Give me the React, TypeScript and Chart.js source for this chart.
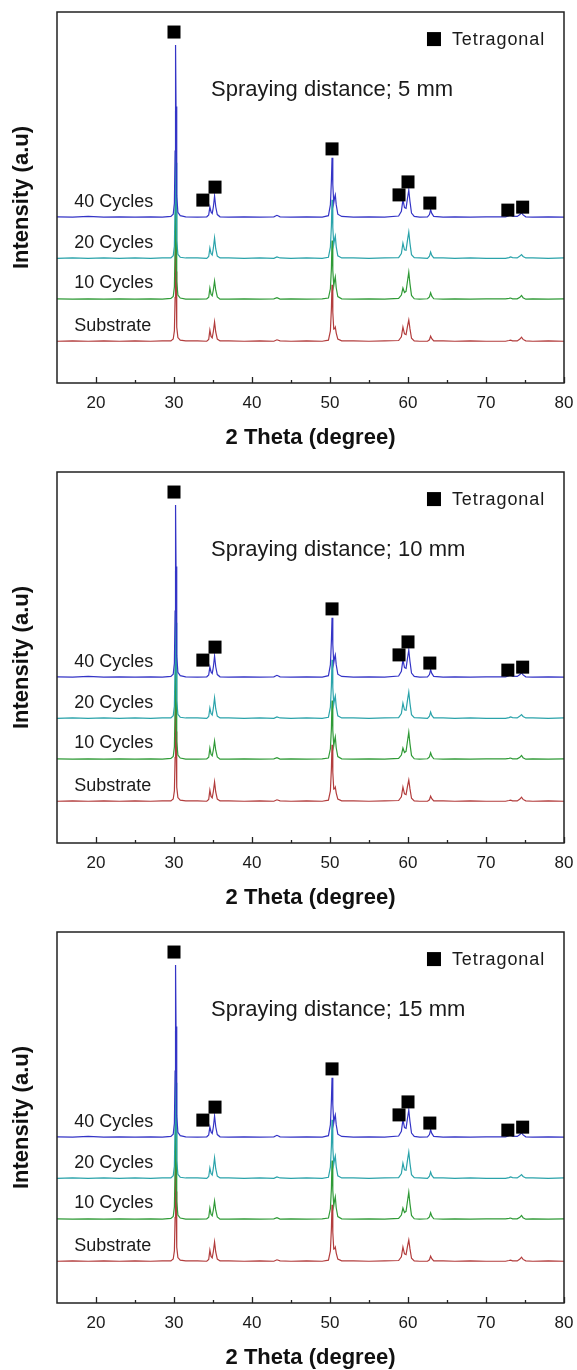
import React, { useEffect, useRef } from 'react';
import { Chart, registerables } from 'chart.js';

Chart.register(...registerables);

const FONT = '"Liberation Sans", Arial, Helvetica, sans-serif';

// ---- data ----
const distances = ['5 mm', '10 mm', '15 mm'];
const seriesNames = ['40 Cycles', '20 Cycles', '10 Cycles', 'Substrate'];
const seriesColors = ['#3434c6', '#2aa3aa', '#2f9a36', '#b23c3c'];
const seriesOffsets = [44.5, 33.4, 22.4, 11.05];

const twoTheta = [
  15, 17, 19, 21, 23, 25, 27, 28.5,
  29.6, 29.9, 30.05, 30.14, 30.2, 30.26, 30.35, 30.5, 30.8, 31.5,
  33, 34.2, 34.45, 34.6, 34.75, 34.9, 35.05, 35.2, 35.35, 35.55, 35.9,
  37, 39, 41, 42.8, 43.2, 43.6, 45, 47, 49,
  49.8, 50.05, 50.18, 50.26, 50.36, 50.48, 50.6, 50.68, 50.8, 51.0, 51.5,
  53, 55, 57,
  58.8, 59.15, 59.35, 59.55, 59.75, 59.95, 60.1, 60.25, 60.45, 60.8, 61.5,
  62.5, 62.75, 62.9, 63.05, 63.3,
  64.5, 66, 68, 70,
  72.5, 72.95, 73.15, 73.4, 74.0, 74.35, 74.55, 74.75, 75.1,
  76, 78, 80,
];

const int40 = [
  0.3, 0.2, 0.4, 0.2, 0.3, 0.2, 0.3, 0.2,
  0.4, 1.0, 4, 18, 46.6, 30, 6, 1.5, 0.6, 0.3,
  0.2, 0.3, 0.8, 3.0, 1.6, 1.2, 3.0, 5.9, 3.0, 0.9, 0.3,
  0.2, 0.3, 0.2, 0.3, 0.7, 0.3, 0.2, 0.3, 0.2,
  0.6, 3.5, 10, 16.2, 9, 4, 5.6, 6.2, 3.5, 1.0, 0.4,
  0.2, 0.3, 0.2,
  0.5, 1.8, 4.9, 2.8, 2.6, 5.5, 7.5, 4.5, 1.3, 0.4, 0.2,
  0.3, 0.9, 2.2, 1.2, 0.4,
  0.2, 0.3, 0.2, 0.3,
  0.3, 0.6, 0.8, 0.5, 0.4, 0.9, 1.4, 0.8, 0.3,
  0.2, 0.3, 0.2,
];

const int20 = [
  0.2, 0.3, 0.2, 0.3, 0.2, 0.3, 0.2, 0.3,
  0.3, 0.9, 3.5, 15, 40, 26, 5, 1.3, 0.5, 0.3,
  0.3, 0.2, 0.7, 3.0, 1.5, 1.1, 3.0, 5.7, 2.8, 0.8, 0.3,
  0.3, 0.2, 0.3, 0.2, 0.6, 0.3, 0.2, 0.3, 0.2,
  0.5, 3.2, 9, 16, 8.5, 4, 5.5, 6.2, 3.3, 0.9, 0.3,
  0.3, 0.2, 0.3,
  0.4, 1.5, 4.3, 2.5, 2.4, 5.3, 7.3, 4.3, 1.2, 0.4, 0.3,
  0.2, 0.8, 1.9, 1.0, 0.3,
  0.3, 0.2, 0.3, 0.2,
  0.2, 0.4, 0.6, 0.4, 0.3, 0.8, 1.2, 0.7, 0.3,
  0.3, 0.2, 0.3,
];

const int10 = [
  0.3, 0.2, 0.3, 0.2, 0.3, 0.2, 0.3, 0.2,
  0.4, 0.9, 3.5, 14, 36, 24, 5, 1.3, 0.5, 0.2,
  0.2, 0.3, 0.7, 3.2, 1.5, 1.1, 2.8, 5.1, 2.6, 0.8, 0.2,
  0.2, 0.3, 0.2, 0.3, 0.6, 0.2, 0.3, 0.2, 0.3,
  0.5, 3.0, 8.5, 16, 8, 3.8, 5.4, 6.2, 3.2, 0.9, 0.3,
  0.2, 0.3, 0.2,
  0.4, 1.3, 3.2, 2.0, 2.3, 5.3, 7.5, 4.4, 1.2, 0.3, 0.2,
  0.3, 0.8, 1.9, 1.0, 0.3,
  0.2, 0.3, 0.2, 0.3,
  0.3, 0.4, 0.5, 0.3, 0.3, 0.7, 1.2, 0.6, 0.2,
  0.3, 0.2, 0.3,
];

const intSub = [
  0.2, 0.3, 0.2, 0.3, 0.2, 0.3, 0.2, 0.3,
  0.3, 0.8, 3.0, 12, 28, 19, 4, 1.2, 0.5, 0.3,
  0.3, 0.2, 0.7, 3.2, 1.5, 1.1, 2.9, 5.4, 2.7, 0.8, 0.3,
  0.3, 0.2, 0.3, 0.2, 0.6, 0.3, 0.2, 0.3, 0.2,
  0.5, 3.0, 9, 15.4, 8, 3.5, 3.6, 4.0, 2.4, 0.8, 0.3,
  0.3, 0.2, 0.3,
  0.4, 1.4, 4.0, 2.2, 2.0, 4.4, 5.9, 3.6, 1.0, 0.3, 0.2,
  0.2, 0.6, 1.6, 0.9, 0.3,
  0.3, 0.2, 0.3, 0.2,
  0.2, 0.4, 0.5, 0.3, 0.3, 0.8, 1.3, 0.7, 0.3,
  0.2, 0.3, 0.2,
];

const seriesIntensities = [int40, int20, int10, intSub];

const markerX = [30.0, 33.7, 35.26, 50.26, 58.85, 60.0, 62.8, 72.8, 74.7];
const markerY = [94.6, 49.3, 52.8, 63.1, 50.7, 54.2, 48.5, 46.6, 47.4];

const xTicks = [20, 30, 40, 50, 60, 70, 80];
const xMinorTicks = [25, 35, 45, 55, 65, 75];

const cycleLabelX = 17.2;
const cycleLabelY = [48.8, 37.7, 27.0, 15.4];
const titleTextPos = [34.74, 79.0];
const legendPos = [63.33, 92.7];

function Panel({ distance }: { distance: string }) {
  const ref = useRef<HTMLCanvasElement | null>(null);

  useEffect(() => {
    if (!ref.current) return;

    const overlay = {
      id: 'overlay',
      afterDatasetsDraw(chart: any) {
        const { ctx, chartArea: a, scales } = chart;
        const xs = scales.x;
        const ys = scales.y;
        ctx.save();
        // frame
        ctx.strokeStyle = '#222';
        ctx.lineWidth = 1.5;
        ctx.strokeRect(a.left, a.top, a.right - a.left, a.bottom - a.top);
        // inward ticks
        ctx.lineWidth = 1.3;
        ctx.beginPath();
        xTicks.forEach((v) => {
          const px = Math.round(xs.getPixelForValue(v)) + 0.5;
          ctx.moveTo(px, a.bottom);
          ctx.lineTo(px, a.bottom - 6);
        });
        xMinorTicks.forEach((v) => {
          const px = Math.round(xs.getPixelForValue(v)) + 0.5;
          ctx.moveTo(px, a.bottom);
          ctx.lineTo(px, a.bottom - 3);
        });
        ctx.stroke();

        ctx.fillStyle = '#1a1a1a';
        ctx.textBaseline = 'middle';
        ctx.textAlign = 'left';
        // panel text
        ctx.font = `22px ${FONT}`;
        ctx.fillText(
          `Spraying distance; ${distance}`,
          xs.getPixelForValue(titleTextPos[0]),
          ys.getPixelForValue(titleTextPos[1])
        );
        // cycle labels
        ctx.font = `18px ${FONT}`;
        seriesNames.forEach((name, i) => {
          ctx.fillText(name, xs.getPixelForValue(cycleLabelX), ys.getPixelForValue(cycleLabelY[i]));
        });
        // legend
        const lx = xs.getPixelForValue(legendPos[0]);
        const ly = ys.getPixelForValue(legendPos[1]);
        ctx.fillStyle = '#000';
        ctx.fillRect(lx - 7, ly - 7, 14, 14);
        ctx.fillStyle = '#1a1a1a';
        ctx.font = `18px ${FONT}`;
        (ctx as any).letterSpacing = '0.9px';
        ctx.fillText('Tetragonal', lx + 18, ly + 1);
        ctx.restore();
      },
    };

    const datasets: any[] = [
      {
        type: 'scatter',
        label: 'Tetragonal',
        data: markerX.map((x, i) => ({ x, y: markerY[i] })),
        pointStyle: 'rect',
        pointRadius: 9.2,
        backgroundColor: '#000',
        borderColor: '#000',
        borderWidth: 0,
        showLine: false,
        order: 0,
      },
      ...seriesIntensities.map((vals, i) => ({
        type: 'line',
        label: seriesNames[i],
        data: twoTheta.map((x, j) => ({ x, y: seriesOffsets[i] + vals[j] })),
        borderColor: seriesColors[i],
        borderWidth: 1.2,
        pointRadius: 0,
        fill: false,
        tension: 0,
        order: i + 1,
      })),
    ];

    const chart = new Chart(ref.current, {
      type: 'line',
      data: { datasets },
      plugins: [overlay],
      options: {
        animation: false,
        responsive: false,
        maintainAspectRatio: false,
        layout: { padding: { top: 12, right: 13, left: 0, bottom: 0 } },
        plugins: { legend: { display: false }, tooltip: { enabled: false } },
        scales: {
          x: {
            type: 'linear',
            min: 15,
            max: 80,
            afterBuildTicks: (s: any) => {
              s.ticks = xTicks.map((v) => ({ value: v }));
            },
            afterFit: (s: any) => {
              s.height = 77;
              s.paddingLeft = 0;
              s.paddingRight = 0;
            },
            grid: { display: false, drawTicks: false },
            border: { display: false },
            ticks: {
              font: { family: FONT, size: 17 },
              color: '#1a1a1a',
              padding: 10,
              maxRotation: 0,
              autoSkip: false,
            },
            title: {
              display: true,
              text: '2 Theta (degree)',
              font: { family: FONT, size: 22, weight: 'bold' },
              color: '#111',
              padding: { top: 0, bottom: 9 },
            },
          },
          y: {
            type: 'linear',
            min: 0,
            max: 100,
            afterFit: (s: any) => {
              s.width = 57;
              s.paddingTop = 0;
              s.paddingBottom = 0;
            },
            grid: { display: false, drawTicks: false },
            border: { display: false },
            ticks: { display: false },
            title: {
              display: true,
              text: 'Intensity (a.u)',
              font: { family: FONT, size: 22, weight: 'bold' },
              color: '#111',
              padding: { top: 9, bottom: 0 },
            },
          },
        },
      } as any,
    });
    return () => chart.destroy();
  }, [distance]);

  return (
    <div style={{ width: 577, height: 460 }}>
      <canvas ref={ref} width={577} height={460} style={{ display: 'block' }} />
    </div>
  );
}

export default function App() {
  return (
    <div
      style={{
        position: 'absolute',
        left: 0,
        top: 0,
        width: 577,
        height: 1370,
        overflow: 'hidden',
        background: '#fff',
      }}
    >
      {distances.map((d) => (
        <Panel key={d} distance={d} />
      ))}
    </div>
  );
}
